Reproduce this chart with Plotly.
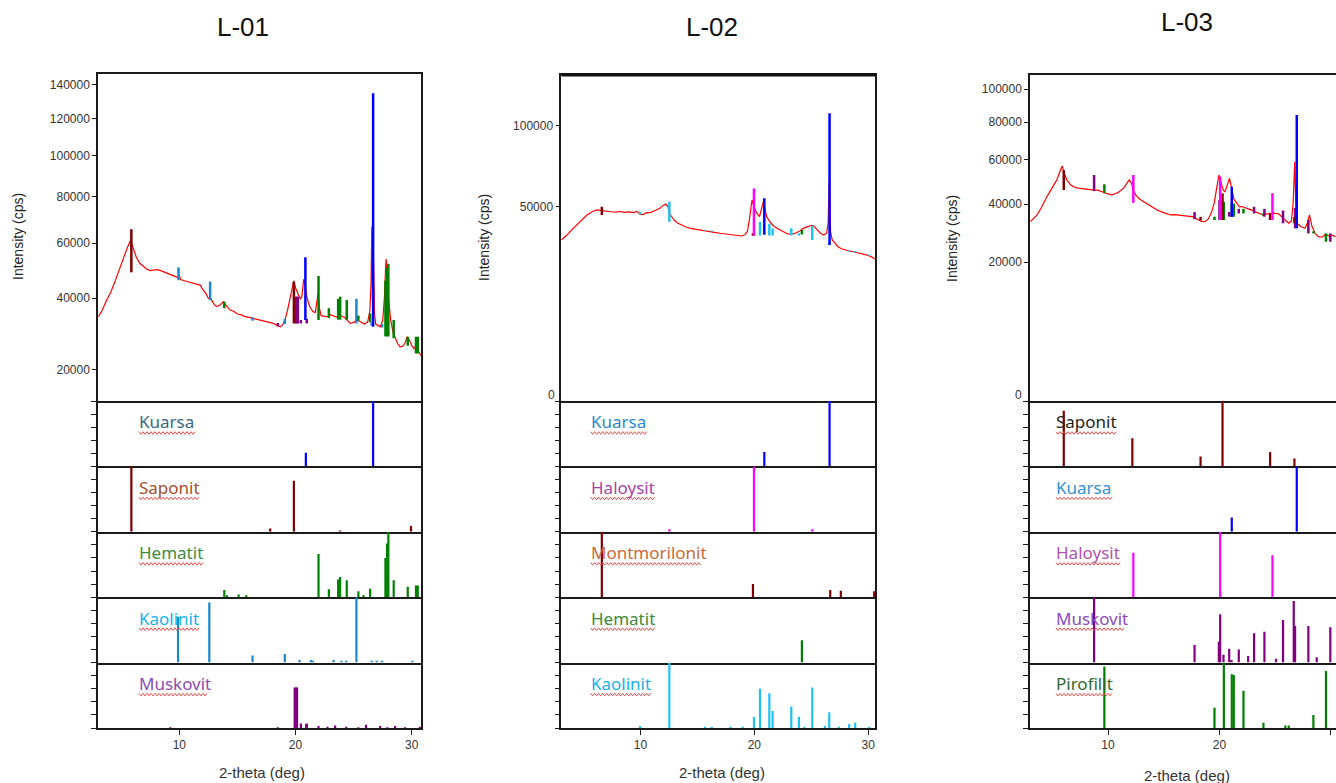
import numpy as np
import plotly.graph_objects as go

# ======================= DATA =======================
# ---- L-01 measured pattern ----
L01_theta = [3.05, 3.4, 3.75, 4.1, 4.4, 4.6, 4.9, 5.1, 5.3, 5.55, 5.8, 5.95, 6.05, 6.3, 6.6, 6.9, 7.2, 7.5,
             7.8, 8.1, 8.4, 8.7, 9.0, 9.3, 9.6, 9.9, 10.0, 10.1, 10.5, 10.9, 11.2, 11.5, 11.8, 12.0, 12.3, 12.5,
             12.7, 13.0, 13.2, 13.5, 13.8, 14.0, 14.35, 14.7, 15.0, 15.3, 15.6, 16.0, 16.4, 16.8, 17.2, 17.6,
             18.0, 18.4, 18.7, 18.9, 19.1, 19.3, 19.5, 19.7, 19.85, 20.0, 20.2, 20.4, 20.55, 20.7, 20.85, 21.0,
             21.2, 21.5, 21.7, 21.85, 21.95, 22.05, 22.2, 22.5, 22.8, 23.0, 23.3, 23.6, 23.9, 24.2, 24.5, 24.7,
             25.0, 25.3, 25.6, 25.9, 26.2, 26.4, 26.5, 26.57, 26.62, 26.68, 26.72, 26.8, 26.9, 27.1, 27.3, 27.5,
             27.65, 27.75, 27.8, 27.9, 28.0, 28.2, 28.4, 28.6, 28.8, 29.0, 29.2, 29.4, 29.6, 29.8, 30.0, 30.2,
             30.4, 30.5, 30.7, 30.8]
L01_cps = [34200, 36500, 39400, 42000, 45000, 47300, 50500, 53000, 56000, 58500, 61200, 59000, 57300, 54500,
           52200, 51000, 50000, 49500, 49600, 49900, 49500, 49000, 48600, 48000, 47500, 47000, 47800, 46300,
           45800, 45300, 45000, 44800, 44400, 43000, 41500, 40000, 39800, 38000, 37300, 37800, 38900, 37800,
           36300, 35800, 35000, 34800, 34300, 34000, 33700, 33300, 33000, 32700, 32300, 31700, 31200, 31800,
           33300, 36000, 39500, 43500, 45900, 43500, 41600, 39800, 40500, 46400, 44000, 40000, 37500, 35700,
           35500, 39000, 41600, 37000, 34500, 34300, 34200, 34800, 34300, 34000, 34500, 34000, 33000, 32200,
           32500, 33200, 32700, 32000, 32500, 36000, 45000, 66700, 40000, 36000, 52800, 35000, 32000, 31500,
           31200, 33000, 40000, 50000, 53800, 48000, 40000, 33000, 29500, 28000, 26500, 25700, 25800, 26500,
           28400, 27500, 26000, 25200, 26300, 25000, 23800, 23500]

# ---- L-01 reference sticks (2-theta, relative intensity %) ----
L01_kuarsa_pos = [20.89, 26.68]
L01_kuarsa_rel = [21, 100]
L01_saponit_pos = [5.87, 17.82, 19.86, 23.84, 29.94]
L01_saponit_rel = [100, 5, 78, 2, 9]
L01_hematit_pos = [13.87, 14.10, 15.10, 15.76, 21.98, 22.87, 23.67, 23.84, 24.41, 25.41, 25.85, 26.42,
                   27.74, 27.88, 27.99, 28.45, 29.66, 30.37, 30.52]
L01_hematit_rel = [11, 3, 4, 3, 66, 12, 27, 31, 26, 9, 3, 13, 60, 82, 100, 26, 16, 18, 18]
L01_kaolinit_pos = [9.89, 12.58, 16.30, 19.08, 20.34, 21.32, 21.49, 23.27, 23.95, 24.36, 25.24, 26.56,
                    26.99, 27.45, 30.06]
L01_kaolinit_rel = [70, 92, 11, 13, 4, 4, 3, 4, 3, 3, 100, 3, 3, 3, 3]
L01_muskovit_pos = [9.23, 18.48, 19.93, 20.03, 20.13, 20.46, 20.92, 20.97, 21.98, 22.75, 23.41, 24.36,
                    25.41, 26.07, 27.28, 27.90, 28.57, 29.43, 30.70]
L01_muskovit_rel = [1, 1, 62, 62, 62, 7, 6, 7, 3, 2, 4, 2, 1, 5, 3, 1, 3, 1, 2]

# ---- L-01 phase markers on the measured pattern (2-theta, low cps, high cps) ----
L01_ov_saponit_pos = [5.87, 19.86]
L01_ov_saponit_lo = [48900, 32200]
L01_ov_saponit_hi = [65700, 45500]
L01_ov_kuarsa_pos = [20.85, 26.68]
L01_ov_kuarsa_lo = [33200, 31230]
L01_ov_kuarsa_hi = [54470, 134900]
L01_ov_hematit_pos = [13.87, 21.98, 22.87, 23.67, 23.84, 24.41, 25.41, 26.42, 27.74, 27.88, 27.99, 28.45,
                      29.66, 30.37, 30.52]
L01_ov_hematit_lo = [36800, 33200, 33800, 33300, 33300, 33300, 33000, 32500, 28500, 28500, 28500, 28000,
                     26000, 24000, 24000]
L01_ov_hematit_hi = [38900, 47600, 36800, 39800, 40500, 39400, 34500, 35200, 46000, 50500, 52000, 33200,
                     28400, 28400, 28400]
L01_ov_kaolinit_pos = [9.93, 12.65, 16.30, 19.08, 25.24, 26.56, 27.45]
L01_ov_kaolinit_lo = [46100, 39400, 33000, 32000, 32200, 31500, 31000]
L01_ov_kaolinit_hi = [50700, 45600, 34000, 33500, 39800, 32500, 32000]
L01_ov_muskovit_pos = [18.48, 20.00, 20.10, 20.20, 20.46, 20.97]
L01_ov_muskovit_lo = [31300, 32200, 32200, 32200, 32200, 32200]
L01_ov_muskovit_hi = [32300, 40500, 40500, 40500, 33200, 33500]

# ---- L-02 measured pattern ----
L02_theta = [3.05, 3.5, 4.1, 4.7, 5.3, 5.8, 6.2, 6.5, 6.8, 7.1, 7.4, 7.8, 8.2, 8.6, 9.0, 9.4, 9.7, 9.95,
             10.2, 10.5, 10.9, 11.3, 11.7, 12.0, 12.2, 12.4, 12.55, 12.7, 13.0, 13.3, 13.7, 14.0, 14.4, 14.8,
             15.2, 15.6, 16.0, 16.5, 17.0, 17.5, 18.0, 18.5, 18.9, 19.2, 19.4, 19.6, 19.8, 19.95, 20.2, 20.45,
             20.65, 20.8, 20.9, 21.1, 21.4, 21.7, 22.0, 22.4, 22.8, 23.2, 23.6, 24.0, 24.3, 24.7, 25.0, 25.2,
             25.5, 25.8, 26.1, 26.35, 26.48, 26.6, 26.7, 26.85, 27.0, 27.3, 27.6, 28.0, 28.4, 28.7, 29.1, 29.5,
             29.9, 30.3, 30.6]
L02_cps = [34600, 36500, 39700, 43000, 46000, 47700, 48500, 48300, 48000, 47800, 47600, 47400, 47700, 47300,
           47500, 47200, 47800, 46400, 46200, 47000, 47300, 48200, 49300, 50800, 51500, 50500, 47000, 45500,
           43300, 42000, 41000, 40300, 39700, 39300, 38900, 38600, 38300, 37900, 37500, 37200, 36800, 36400,
           36300, 36900, 38500, 45000, 53600, 50500, 47000, 45200, 49000, 52700, 49500, 45000, 42500, 40800,
           39700, 38500, 37500, 37000, 37500, 38500, 39700, 40500, 41000, 40900, 39000, 37500, 36700, 37500,
           42000, 66600, 38000, 34500, 33800, 32000, 31100, 30500, 30000, 29800, 29400, 29000, 28500, 27800,
           27000]

L02_kuarsa_pos = [20.88, 26.61]
L02_kuarsa_rel = [22, 100]
L02_haloysit_pos = [12.54, 19.97, 25.09]
L02_haloysit_rel = [4, 100, 4]
L02_montmorilonit_pos = [6.61, 19.88, 26.67, 27.60, 30.53]
L02_montmorilonit_rel = [100, 20, 11, 10, 9]
L02_hematit_pos = [24.18]
L02_hematit_rel = [34]
L02_kaolinit_pos = [9.97, 12.54, 15.67, 16.26, 17.92, 18.98, 19.97, 20.50, 21.32, 21.61, 23.25, 23.92,
                    24.39, 25.09, 26.20, 26.58, 27.43, 28.33, 28.86, 30.09]
L02_kaolinit_rel = [3, 100, 2, 2, 2, 2, 17, 60, 53, 26, 33, 17, 2, 62, 3, 24, 2, 6, 8, 2]

L02_ov_montmorilonit_pos = [6.61, 19.88]
L02_ov_montmorilonit_lo = [46000, 36400]
L02_ov_montmorilonit_hi = [50100, 37500]
L02_ov_kaolinit_pos = [9.97, 12.54, 15.67, 16.26, 19.97, 20.50, 21.32, 21.61, 23.25, 23.92, 25.09, 26.58,
                       28.33, 28.86, 30.09]
L02_ov_kaolinit_lo = [46300, 42800, 38600, 38300, 36400, 36500, 36500, 36500, 36500, 36500, 34600, 32500,
                      29800, 29600, 28300]
L02_ov_kaolinit_hi = [47500, 52700, 39000, 38700, 37500, 42800, 41800, 39700, 39700, 37500, 40900, 34000,
                      30300, 30100, 28700]
L02_ov_haloysit_pos = [19.97]
L02_ov_haloysit_lo = [36400]
L02_ov_haloysit_hi = [59900]
L02_ov_kuarsa_pos = [20.88, 26.61]
L02_ov_kuarsa_lo = [36800, 32500]
L02_ov_kuarsa_hi = [54500, 109100]
L02_ov_hematit_pos = [24.18]
L02_ov_hematit_lo = [37000]
L02_ov_hematit_hi = [39000]

# ---- L-03 measured pattern ----
L03_theta = [3.04, 3.3, 3.64, 4.0, 4.5, 5.0, 5.4, 5.7, 5.88, 6.05, 6.3, 6.6, 6.9, 7.3, 7.7, 8.1, 8.5, 8.8,
             9.1, 9.4, 9.7, 10.0, 10.36, 10.7, 11.0, 11.4, 11.7, 11.9, 12.1, 12.3, 12.5, 12.8, 13.2, 13.6,
             14.0, 14.4, 14.8, 15.2, 15.6, 16.0, 16.4, 16.8, 17.2, 17.67, 18.0, 18.4, 18.7, 19.0, 19.3, 19.55,
             19.75, 19.95, 20.15, 20.35, 20.5, 20.7, 20.9, 21.05, 21.3, 21.6, 21.8, 22.0, 22.3, 22.6, 22.9,
             23.2, 23.6, 23.95, 24.3, 24.6, 24.9, 25.3, 25.6, 25.9, 26.2, 26.45, 26.6, 26.75, 26.85, 27.0,
             27.3, 27.68, 27.9, 28.07, 28.3, 28.6, 28.87, 29.2, 29.5, 29.8, 30.07, 30.4]
L03_cps = [33300, 34500, 35800, 38500, 43000, 47000, 50400, 54500, 57000, 54000, 50500, 48500, 47400, 46800,
           46500, 46300, 46000, 45900, 45900, 45500, 44800, 44300, 43900, 44500, 45200, 46800, 48800, 50500,
           49000, 45500, 43800, 42300, 41000, 39800, 38600, 37700, 37000, 36300, 35800, 35900, 35700, 35500,
           35300, 35100, 34200, 33400, 33300, 34300, 37000, 41000, 47000, 52700, 49000, 45800, 45200, 48000,
           51200, 47500, 42000, 40200, 39000, 39100, 38700, 38000, 37700, 37000, 36300, 35800, 36200, 36400,
           36500, 36200, 35000, 34200, 32700, 33500, 40000, 59000, 38000, 32500, 31500, 30900, 33000, 35800,
           31500, 29000, 28000, 27800, 28800, 28300, 28500, 28000]

L03_saponit_pos = [6.03, 12.18, 18.30, 20.27, 24.54, 26.72]
L03_saponit_rel = [85, 43, 15, 100, 22, 12]
L03_kuarsa_pos = [21.10, 26.93]
L03_kuarsa_rel = [22, 100]
L03_haloysit_pos = [12.27, 20.06, 24.75]
L03_haloysit_rel = [68, 100, 64]
L03_muskovit_pos = [8.75, 17.76, 19.94, 20.06, 20.36, 20.87, 21.07, 21.73, 22.57, 23.10, 24.03, 25.07,
                    25.70, 26.66, 26.78, 27.97, 28.72, 29.94]
L03_muskovit_rel = [100, 27, 32, 74, 12, 21, 4, 20, 10, 45, 47, 6, 65, 94, 56, 56, 8, 54]
L03_pirofilit_pos = [9.67, 19.55, 20.39, 21.10, 21.28, 22.15, 23.94, 25.91, 26.21, 28.42, 29.55]
L03_pirofilit_rel = [94, 31, 100, 82, 81, 57, 8, 4, 4, 20, 87]

L03_ov_saponit_pos = [6.03, 18.30, 20.27, 24.54, 26.72]
L03_ov_saponit_lo = [46000, 33800, 33900, 33900, 32700]
L03_ov_saponit_hi = [55000, 35100, 44500, 36500, 35000]
L03_ov_kuarsa_pos = [21.10, 26.93]
L03_ov_kuarsa_lo = [35100, 30900]
L03_ov_kuarsa_hi = [47400, 84200]
L03_ov_haloysit_pos = [12.27, 20.06, 24.75]
L03_ov_haloysit_lo = [40600, 33900, 33900]
L03_ov_haloysit_hi = [52700, 52000, 44600]
L03_ov_muskovit_pos = [8.75, 17.76, 20.00, 20.87, 21.73, 23.10, 24.03, 25.70, 26.78, 27.97, 29.94]
L03_ov_muskovit_lo = [45500, 34200, 33900, 35150, 36400, 36400, 35150, 32700, 30900, 29100, 26300]
L03_ov_muskovit_hi = [52700, 36900, 41750, 36900, 38200, 39000, 38200, 37500, 38500, 33900, 29100]
L03_ov_pirofilit_pos = [9.67, 19.55, 20.39, 21.10, 21.28, 22.15, 23.94, 28.42, 29.55]
L03_ov_pirofilit_lo = [44600, 33900, 33900, 35150, 35150, 36400, 35500, 29100, 26300]
L03_ov_pirofilit_hi = [48500, 35150, 41000, 40300, 40300, 38200, 36400, 29800, 29100]

# tick labels
L01_yticks = [20000, 40000, 60000, 80000, 100000, 120000, 140000]
L02_yticks = [50000, 100000]
L03_yticks = [20000, 40000, 60000, 80000, 100000]
X_ticks = [10, 20, 30]

# ======================= STYLE =======================
W, H = 1336, 783
UNDERLINE_W = {"Kuarsa": 56, "Saponit": 60, "Hematit": 65, "Kaolinit": 60, "Muskovit": 69,
               "Haloysit": 65, "Montmorilonit": 111, "Pirofilit": 56}

samples = [
    dict(title="L-01", theta=L01_theta, cps=L01_cps, yticks=L01_yticks,
         px=(98, 421), xr=[3.0, 30.8], yr=[116.1, 383.0], top=74, mirror=True,
         title_xy=(243, 27), ytitle_xy=(18, 237), xtitle_xy=(262, 772), label_x=139, zero=None,
         panels=[("Kuarsa", L01_kuarsa_pos, L01_kuarsa_rel, "#3b6781", "#0000ff"),
                 ("Saponit", L01_saponit_pos, L01_saponit_rel, "#a4502e", "#800000"),
                 ("Hematit", L01_hematit_pos, L01_hematit_rel, "#3d8b3d", "#008000"),
                 ("Kaolinit", L01_kaolinit_pos, L01_kaolinit_rel, "#18b2ee", "#1a88cc"),
                 ("Muskovit", L01_muskovit_pos, L01_muskovit_rel, "#8a4cb4", "#800080")],
         overlays=[(L01_ov_kaolinit_pos, L01_ov_kaolinit_lo, L01_ov_kaolinit_hi, "#1a88cc"),
                   (L01_ov_muskovit_pos, L01_ov_muskovit_lo, L01_ov_muskovit_hi, "#800080"),
                   (L01_ov_saponit_pos, L01_ov_saponit_lo, L01_ov_saponit_hi, "#800000"),
                   (L01_ov_hematit_pos, L01_ov_hematit_lo, L01_ov_hematit_hi, "#008000"),
                   (L01_ov_kuarsa_pos, L01_ov_kuarsa_lo, L01_ov_kuarsa_hi, "#0000ff")]),
    dict(title="L-02", theta=L02_theta, cps=L02_cps, yticks=L02_yticks,
         px=(561.3, 875), xr=[3.05, 30.6], yr=[2.6, 373.9], top=75, mirror=True,
         title_xy=(712, 27), ytitle_xy=(484, 238), xtitle_xy=(722, 772), label_x=590.7, zero=(557, 395),
         panels=[("Kuarsa", L02_kuarsa_pos, L02_kuarsa_rel, "#2f86c8", "#0000ff"),
                 ("Haloysit", L02_haloysit_pos, L02_haloysit_rel, "#a545a5", "#ff00ff"),
                 ("Montmorilonit", L02_montmorilonit_pos, L02_montmorilonit_rel, "#c8693a", "#800000"),
                 ("Hematit", L02_hematit_pos, L02_hematit_rel, "#3d8b3d", "#008000"),
                 ("Kaolinit", L02_kaolinit_pos, L02_kaolinit_rel, "#18b2ee", "#1ec2f2")],
         overlays=[(L02_ov_kaolinit_pos, L02_ov_kaolinit_lo, L02_ov_kaolinit_hi, "#1ec2f2"),
                   (L02_ov_montmorilonit_pos, L02_ov_montmorilonit_lo, L02_ov_montmorilonit_hi, "#800000"),
                   (L02_ov_hematit_pos, L02_ov_hematit_lo, L02_ov_hematit_hi, "#008000"),
                   (L02_ov_haloysit_pos, L02_ov_haloysit_lo, L02_ov_haloysit_hi, "#ff00ff"),
                   (L02_ov_kuarsa_pos, L02_ov_kuarsa_lo, L02_ov_kuarsa_hi, "#0000ff")]),
    dict(title="L-03", theta=L03_theta, cps=L03_cps, yticks=L03_yticks,
         px=(1030, 1336), xr=[3.0, 30.45], yr=[1.3, 330.6], top=75, mirror=False,
         title_xy=(1187, 22), ytitle_xy=(952, 238), xtitle_xy=(1187, 775), label_x=1056, zero=(1024, 395),
         panels=[("Saponit", L03_saponit_pos, L03_saponit_rel, "#1e1e1e", "#800000"),
                 ("Kuarsa", L03_kuarsa_pos, L03_kuarsa_rel, "#2f90d8", "#0000ff"),
                 ("Haloysit", L03_haloysit_pos, L03_haloysit_rel, "#b052b0", "#ff00ff"),
                 ("Muskovit", L03_muskovit_pos, L03_muskovit_rel, "#8a4cc0", "#800080"),
                 ("Pirofilit", L03_pirofilit_pos, L03_pirofilit_rel, "#2e6b2e", "#008000")],
         overlays=[(L03_ov_pirofilit_pos, L03_ov_pirofilit_lo, L03_ov_pirofilit_hi, "#008000"),
                   (L03_ov_muskovit_pos, L03_ov_muskovit_lo, L03_ov_muskovit_hi, "#800080"),
                   (L03_ov_saponit_pos, L03_ov_saponit_lo, L03_ov_saponit_hi, "#800000"),
                   (L03_ov_haloysit_pos, L03_ov_haloysit_lo, L03_ov_haloysit_hi, "#ff00ff"),
                   (L03_ov_kuarsa_pos, L03_ov_kuarsa_lo, L03_ov_kuarsa_hi, "#0000ff")]),
]

ROWS = [401.0, 466.4, 531.8, 597.2, 662.6, 728.0]   # pixel boundaries of stick panels
AXIS_FONT = "Liberation Sans, Arial, sans-serif"
LABEL_FONT = "Noto Sans, Roboto, sans-serif"


def sq(v):
    return float(np.sqrt(v))


def px_x(x):
    return x / W


def px_y(y):
    return 1 - y / H


def segments(pos, lo, hi, f=lambda v: v):
    xs, ys = [], []
    for p, a, b in zip(pos, lo, hi):
        xs += [p, p, None]
        ys += [f(a), f(b), None]
    return xs, ys


def squiggle(x0, x1, y, amp=1.3, step=2.0):
    pts = []
    n = int((x1 - x0) / step)
    for i in range(n + 1):
        pts.append((x0 + i * step, y + (amp if i % 2 else -amp)))
    return "M " + " L ".join(f"{px_x(a):.5f},{px_y(b):.5f}" for a, b in pts)


fig = go.Figure()
layout = dict(width=W, height=H, margin=dict(l=0, r=0, t=0, b=0), autosize=False,
              paper_bgcolor="white", plot_bgcolor="white", showlegend=False)
annotations, shapes = [], []

for c, s in enumerate(samples):
    x0, x1 = s["px"]
    xdom = [px_x(x0), min(1.0, px_x(x1))]
    for p in range(6):
        idx = c * 6 + p + 1
        xn = "xaxis" if idx == 1 else f"xaxis{idx}"
        yn = "yaxis" if idx == 1 else f"yaxis{idx}"
        xr = "x" if idx == 1 else f"x{idx}"
        yr = "y" if idx == 1 else f"y{idx}"
        if p == 0:
            ytop, ybot = s["top"], ROWS[0]
        else:
            ytop, ybot = ROWS[p - 1], ROWS[p]
        bottom = (p == 5)
        layout[xn] = dict(domain=xdom, anchor=yr, range=s["xr"], showgrid=False, zeroline=False,
                          showline=True, linecolor="#1a1a1a", linewidth=1.5, mirror=(p == 0),
                          tickvals=X_ticks, ticks="outside" if bottom else "", ticklen=5,
                          tickcolor="#1a1a1a", showticklabels=bottom,
                          tickfont=dict(family=AXIS_FONT, size=12, color="#333333"))
        if p == 0:
            tv = [sq(v) for v in s["yticks"]]
            tt = [str(v) for v in s["yticks"]]
            layout[yn] = dict(domain=[px_y(ybot), px_y(ytop)], anchor=xr, range=s["yr"],
                              showgrid=False, zeroline=False, showline=True, linecolor="#1a1a1a",
                              linewidth=1.5, mirror=s["mirror"], tickvals=tv, ticktext=tt,
                              ticks="outside", ticklen=4, tickcolor="#1a1a1a",
                              tickfont=dict(family=AXIS_FONT, size=12, color="#333333"))
            fig.add_trace(go.Scatter(x=s["theta"], y=[sq(v) for v in s["cps"]], mode="lines",
                                     line=dict(color="#ff0000", width=1.2), xaxis=xr, yaxis=yr,
                                     hoverinfo="skip"))
            for pos, lo, hi, col in s["overlays"]:
                xs, ys = segments(pos, lo, hi, sq)
                fig.add_trace(go.Scatter(x=xs, y=ys, mode="lines", line=dict(color=col, width=2.5),
                                         xaxis=xr, yaxis=yr, hoverinfo="skip"))
        else:
            name, pos, rel, lab_col, st_col = s["panels"][p - 1]
            layout[yn] = dict(domain=[px_y(ybot), px_y(ytop)], anchor=xr, range=[0, 100],
                              showgrid=False, zeroline=False, showline=True, linecolor="#1a1a1a",
                              linewidth=1.5, mirror=s["mirror"], tickvals=[0, 20, 40, 60, 80, 100],
                              ticks="outside", ticklen=5, tickcolor="#1a1a1a", showticklabels=False)
            xs, ys = segments(pos, [0] * len(pos), rel)
            fig.add_trace(go.Scatter(x=xs, y=ys, mode="lines", line=dict(color=st_col, width=2.2),
                                     xaxis=xr, yaxis=yr, hoverinfo="skip"))
            annotations.append(dict(x=px_x(s["label_x"] - 2), y=px_y(ytop + 21), xref="paper", yref="paper",
                                    text=name, showarrow=False, xanchor="left", yanchor="middle",
                                    font=dict(family=LABEL_FONT, size=17, color=lab_col)))
            shapes.append(dict(type="path", xref="paper", yref="paper",
                               path=squiggle(s["label_x"], s["label_x"] + UNDERLINE_W[name], ytop + 32),
                               line=dict(color="#ee4a4a", width=1)))
    tx, ty = s["title_xy"]
    annotations.append(dict(x=px_x(tx), y=px_y(ty), xref="paper", yref="paper", text=s["title"],
                            showarrow=False, xanchor="center", yanchor="middle",
                            font=dict(family=AXIS_FONT, size=26, color="#111111")))
    yx, yy = s["ytitle_xy"]
    annotations.append(dict(x=px_x(yx), y=px_y(yy), xref="paper", yref="paper", text="Intensity (cps)",
                            showarrow=False, textangle=-90, xanchor="center", yanchor="middle",
                            font=dict(family=AXIS_FONT, size=14, color="#222222")))
    bx, by = s["xtitle_xy"]
    annotations.append(dict(x=px_x(bx), y=px_y(by), xref="paper", yref="paper", text="2-theta (deg)",
                            showarrow=False, xanchor="center", yanchor="middle",
                            font=dict(family=AXIS_FONT, size=15, color="#333333")))
    if s["zero"]:
        zx, zy = s["zero"]
        annotations.append(dict(x=px_x(zx), y=px_y(zy), xref="paper", yref="paper", text="0",
                                showarrow=False, xanchor="right", yanchor="middle",
                                font=dict(family=AXIS_FONT, size=12, color="#333333")))

# heavier top border of the L-02 pattern panel
shapes.append(dict(type="line", xref="paper", yref="paper", x0=px_x(561.3), x1=px_x(875),
                   y0=px_y(75), y1=px_y(75), line=dict(color="#111111", width=3)))

layout["annotations"] = annotations
layout["shapes"] = shapes
fig.update_layout(**layout)
fig.write_html("out.html")
